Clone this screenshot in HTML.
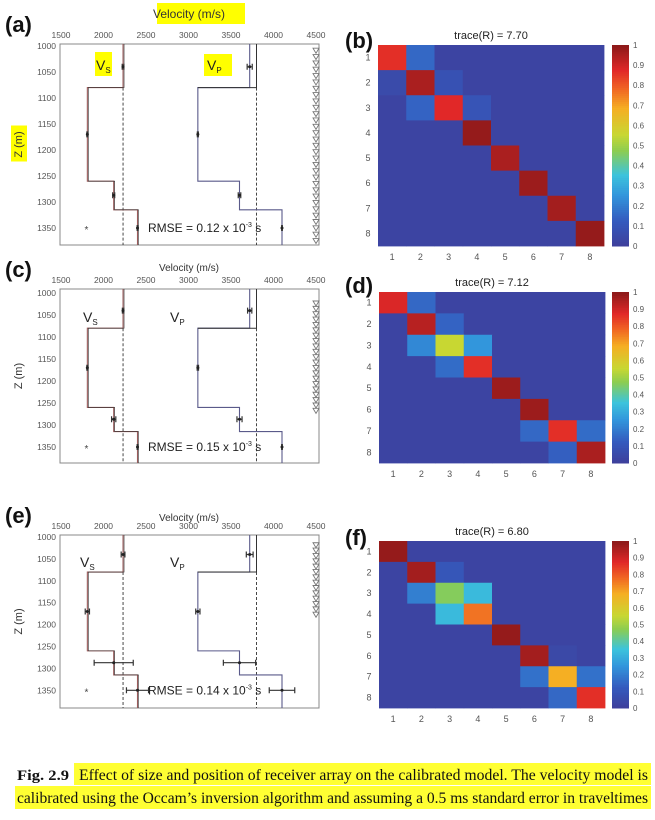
<!DOCTYPE html>
<html><head><meta charset="utf-8">
<style>
body{margin:0;background:#fff;width:655px;height:820px;overflow:hidden}
svg{display:block;font-family:"Liberation Sans",sans-serif}
</style></head>
<body>
<svg id="fig" width="655" height="820" viewBox="0 0 655 820"></svg>
<script>
// ---- data ----
const velTicks=[1500,2000,2500,3000,3500,4000,4500];
const depthTicks=[1000,1050,1100,1150,1200,1250,1300,1350];
const vsTrue=2230, vpTrue=3800;
const vsLayerTops=[1000,1080,1260,1315];
const vsLayerVel=[2230,1810,2120,2400];
const vpLayerVel=[3720,3110,3600,4100];
const vpTopAlt=3800;
const ptDepths=[1040,1170,1287,1350];
const vsErrA=[10,6,12,4], vpErrA=[30,6,15,4];
const vsErrC=[8,6,25,4], vpErrC=[25,8,30,4];
const vsErrE=[22,25,230,130], vpErrE=[40,25,190,150];
const rxA=[1010,1385], rxC=[1025,1275], rxE=[1020,1185];
const rmseLabels=["0.12","0.15","0.14"];
const matCats=[1,2,3,4,5,6,7,8];
const cbTicks=[0,0.1,0.2,0.3,0.4,0.5,0.6,0.7,0.8,0.9,1];
const diagB=[0.86,0.95,0.87,0.98,0.95,0.97,0.96,0.98];
const offB=[[0,1,0.15],[1,0,0.05],[1,2,0.08],[2,1,0.14],[2,3,0.09]];
const diagD=[0.88,0.93,0.55,0.86,0.97,0.97,0.86,0.95];
const offD=[[0,1,0.15],[1,2,0.14],[2,1,0.22],[2,3,0.25],[3,2,0.16],[6,5,0.15],[6,7,0.16],[7,6,0.13]];
const diagF=[0.98,0.96,0.46,0.76,0.98,0.96,0.68,0.86];
const offF=[[1,2,0.1],[2,1,0.2],[2,3,0.33],[3,2,0.33],[6,5,0.17],[6,7,0.17],[7,6,0.15],[5,6,0.04]];
const traces=["7.70","7.12","6.80"];

const NS="http://www.w3.org/2000/svg";
const svg=document.getElementById('fig');
function mk(tag,attrs,parent){const e=document.createElementNS(NS,tag);for(const k in attrs)e.setAttribute(k,attrs[k]);(parent||svg).appendChild(e);return e;}
function txt(s,attrs,parent){const e=mk('text',attrs,parent);e.textContent=s;return e;}

function cmap(v){
 const st=[[0,[62,64,156]],[0.12,[52,90,190]],[0.25,[50,150,220]],[0.35,[60,195,220]],[0.47,[140,205,80]],[0.55,[200,215,50]],[0.68,[245,175,35]],[0.78,[240,100,35]],[0.87,[225,40,40]],[1,[135,25,25]]];
 for(let i=1;i<st.length;i++){if(v<=st[i][0]){const t=(v-st[i-1][0])/(st[i][0]-st[i-1][0]);const a=st[i-1][1],b=st[i][1];return `rgb(${a.map((c,j)=>Math.round(c+(b[j]-c)*t)).join(',')})`;}}
 return 'rgb(135,25,25)';
}

function velPanel(letter,g,vsErr,vpErr,rx,rmse,hl){
 const X=v=>61+(v-1500)*(255/3000);
 const Y=d=>g.y1000+(d-1000)*g.k;
 const grp=mk('g',{},svg);
 
 
 if(hl){const h=mk('rect',{x:157,y:g.vy-15,width:88,height:21,fill:'#ffff00'},grp);}
 const pl=txt('('+letter+')',{x:5,y:g.top-12,'font-size':22,'font-weight':'bold',fill:'#111'},grp);
 
 const vt=txt('Velocity (m/s)',{x:189,y:g.vy,'font-size':hl?12:10,'text-anchor':'middle',fill:'#333'},grp);
 
 velTicks.forEach(v=>{const t=txt(v,{x:X(v),y:g.top-6,'font-size':8.5,'text-anchor':'middle',fill:'#555'},grp);});
 depthTicks.forEach(d=>{const t=txt(d,{x:56,y:Y(d)+3,'font-size':8.5,'text-anchor':'end',fill:'#555'},grp);});
 const my=(g.top+g.bot)/2;
 if(hl){const h=mk('rect',{x:11,y:my-19,width:16,height:36,fill:'#ffff00'},grp);}
 const zt=txt('Z (m)',{x:22,y:my,'font-size':11,'text-anchor':'middle',fill:'#333',transform:`rotate(-90 22 ${my})`},grp);
 
 const box=mk('rect',{x:60,y:g.top,width:259,height:g.bot-g.top,fill:'none',stroke:'#888','stroke-width':1},grp);
 
 // dashed true lines
 [vsTrue,vpTrue].forEach(v=>{const l=mk('line',{x1:X(v),x2:X(v),y1:Y(1080),y2:g.bot,stroke:'#333','stroke-dasharray':'3,2','stroke-width':0.9},grp);});
 function step(vels,col,top0){let p=`M${X(top0)},${g.top}`;vels.forEach((v,i)=>{const y0=i==0?g.top:Y(vsLayerTops[i]);const y1=i<vels.length-1?Y(vsLayerTops[i+1]):g.bot;p+=` L${X(v)},${y0} L${X(v)},${y1}`;});return p;}
 const vs=mk('path',{d:step(vsLayerVel,'',vsLayerVel[0]),fill:'none',stroke:'#9a5a5a','stroke-width':1.1},grp);
 
 const vs2=mk('path',{d:step(vsLayerVel,'',vsLayerVel[0]),fill:'none',stroke:'#333','stroke-width':0.6,transform:'translate(1,0)'},grp);
 
 const vp=mk('path',{d:step(vpLayerVel,'',vpLayerVel[0]),fill:'none',stroke:'#5a5a8a','stroke-width':1.1},grp);
 
 const vpa=mk('path',{d:`M${X(vpTopAlt)},${g.top} L${X(vpTopAlt)},${Y(1080)} L${X(vpLayerVel[1])},${Y(1080)}`,fill:'none',stroke:'#333','stroke-width':1},grp);
 
 function ebars(vels,errs,nm){ptDepths.forEach((d,i)=>{const y=Y(d),x=X(vels[i]),w=errs[i]*(255/3000);
  const e=mk('path',{d:`M${x-w},${y} L${x+w},${y} M${x-w},${y-3} L${x-w},${y+3} M${x+w},${y-3} L${x+w},${y+3}`,stroke:'#333','stroke-width':1.2,fill:'none'},grp);
  
  const c=mk('circle',{cx:x,cy:y,r:1.5,fill:'#222'},grp);});}
 ebars(vsLayerVel,vsErr,'vs');ebars(vpLayerVel,vpErr,'vp');
 const st=txt('*',{x:X(1800),y:Y(1350)+5,'font-size':10,'text-anchor':'middle',fill:'#444'},grp);
 for(let d=rx[0];d<=rx[1]+0.1;d+=12.2){const y=Y(d);const t=mk('path',{d:`M${X(4500)-3},${y-3} L${X(4500)+3},${y-3} L${X(4500)},${y+2} Z`,fill:'none',stroke:'#777','stroke-width':0.9},grp);}
 if(hl){[[95,52,17,24],[204,54,28,22]].forEach(r=>{const h=mk('rect',{x:r[0],y:r[1],width:r[2],height:r[3],fill:'#ffff00'},grp);});}
 const lvs=mk('text',{x:g.vsx,y:g.lbly,'font-size':14,fill:'#222'},grp);lvs.innerHTML='V<tspan font-size="8" dy="3">S</tspan>';
 
 const lvp=mk('text',{x:g.vpx,y:g.lbly,'font-size':14,fill:'#222'},grp);lvp.innerHTML='V<tspan font-size="8" dy="3">P</tspan>';
 
 const rm=mk('text',{x:148,y:Y(1350)+4,'font-size':12,fill:'#222'},grp);rm.innerHTML=`RMSE = ${rmse} x 10<tspan font-size="7" dy="-5">-3</tspan><tspan dy="5"> s</tspan>`;
 
}

function matPanel(letter,g,diag,off,trace){
 const grp=mk('g',{},svg);
 
 
 const pl=txt('('+letter+')',{x:g.lx,y:g.ly,'font-size':22,'font-weight':'bold',fill:'#111'},grp);
 
 const cw=(g.x1-g.x0)/matCats.length, ch=(g.y1-g.y0)/matCats.length;
 const t=txt('trace(R) = '+trace,{x:(g.x0+g.x1)/2,y:g.y0-6,'font-size':11,'text-anchor':'middle',fill:'#222'},grp);
 
 const M=matCats.map((_,i)=>matCats.map((_,j)=>i==j?diag[i]:0.02));
 off.forEach(o=>{M[o[0]][o[1]]=o[2];});
 M.forEach((row,i)=>row.forEach((v,j)=>{const r=mk('rect',{x:g.x0+j*cw,y:g.y0+i*ch,width:cw+0.4,height:ch+0.4,fill:cmap(v)},grp);}));
 matCats.forEach((c,i)=>{const a=txt(c,{x:g.x0+(i+0.5)*cw,y:g.y1+14,'font-size':9,'text-anchor':'middle',fill:'#555'},grp);
  const b=txt(c,{x:g.x0-10,y:g.y0+(i+0.5)*ch+3,'font-size':9,'text-anchor':'middle',fill:'#555'},grp);});
 const cbx=612,cbw=17;
 for(let k=0;k<100;k++){const v=k/100;const r=mk('rect',{x:cbx,y:g.y1-(k+1)*(g.y1-g.y0)/100,width:cbw,height:(g.y1-g.y0)/100+0.5,fill:cmap(v)},grp);}
 cbTicks.forEach(v=>{const y=g.y1-v*(g.y1-g.y0);const l=txt(v,{x:cbx+cbw+4,y:y+3,'font-size':8,fill:'#555'},grp);});
}

velPanel('a',{top:44,bot:245,y1000:46,k:26/50,vy:18,vsx:96,vpx:207,lbly:70},vsErrA,vpErrA,rxA,rmseLabels[0],true);
velPanel('c',{top:289,bot:463,y1000:293,k:22/50,vy:271,vsx:83,vpx:170,lbly:322},vsErrC,vpErrC,rxC,rmseLabels[1],false);
velPanel('e',{top:535,bot:708,y1000:537,k:21.9/50,vy:521,vsx:80,vpx:170,lbly:567},vsErrE,vpErrE,rxE,rmseLabels[2],false);
matPanel('b',{x0:378,x1:604,y0:45,y1:246,lx:345,ly:48},diagB,offB,traces[0]);
matPanel('d',{x0:379,x1:605,y0:292,y1:463,lx:345,ly:293},diagD,offD,traces[1]);
matPanel('f',{x0:379,x1:605,y0:541,y1:708,lx:345,ly:545},diagF,offF,traces[2]);

// caption
const cap=mk('g',{},svg);
mk('rect',{x:74,y:763,width:577,height:22,fill:'#ffff33'},cap);
mk('rect',{x:15,y:786,width:636,height:23,fill:'#ffff33'},cap);
const c0=txt('Fig. 2.9',{x:17,y:780,'font-size':15,'font-weight':'bold','font-family':'Liberation Serif,serif',fill:'#111',textLength:52,lengthAdjust:'spacingAndGlyphs'},cap);
const c1=txt('Effect of size and position of receiver array on the calibrated model. The velocity model is',{x:79,y:780,'font-size':16,'font-family':'Liberation Serif,serif',fill:'#111',textLength:569,lengthAdjust:'spacingAndGlyphs'},cap);
const c2=txt('calibrated using the Occam\u2019s inversion algorithm and assuming a 0.5 ms standard error in traveltimes',{x:17,y:803,'font-size':16,'font-family':'Liberation Serif,serif',fill:'#111',textLength:631,lengthAdjust:'spacingAndGlyphs'},cap);
</script>
</body></html>
